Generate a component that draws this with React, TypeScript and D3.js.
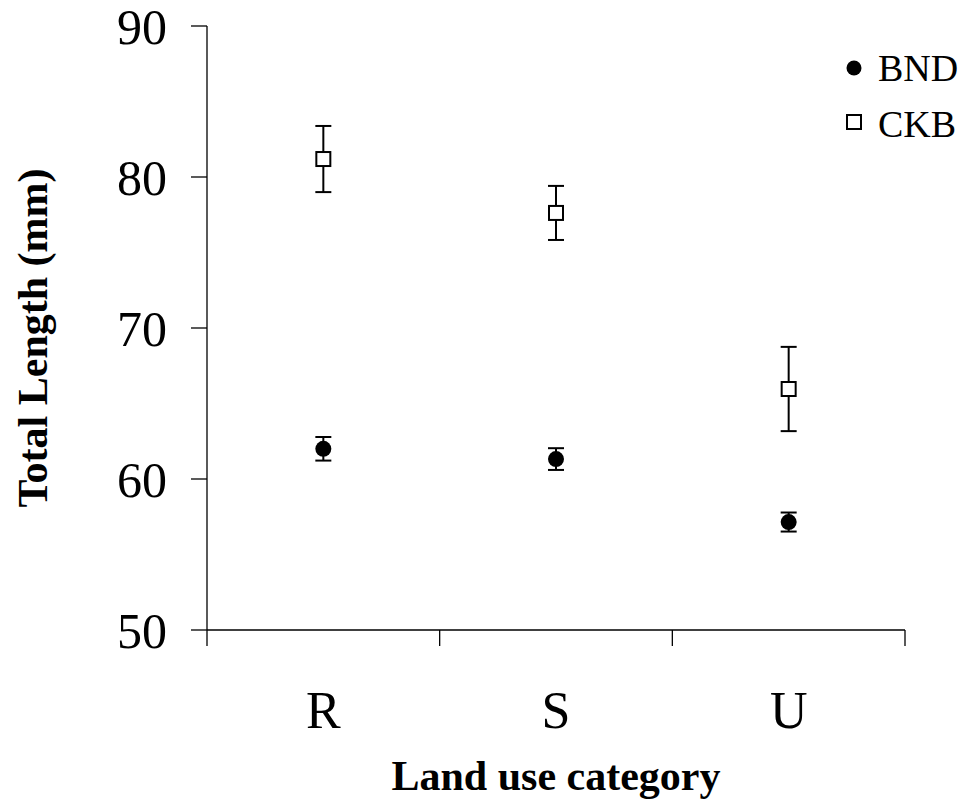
import React from "react";
import * as d3 from "d3";

const categories = ["R", "S", "U"];
const bndMean = [62.0, 61.32, 57.15];
const bndErr = [0.78, 0.72, 0.63];
const ckbMean = [81.19, 77.62, 65.96];
const ckbErr = [2.19, 1.79, 2.79];
const yTicks = [50, 60, 70, 80, 90];
const seriesNames = ["BND", "CKB"];

const W = 958;
const H = 804;
const left = 207;
const right = 905;
const top = 26;
const bottom = 630;

export default function App() {
  const x = d3.scaleBand<string>().domain(categories).range([left, right]);
  const y = d3.scaleLinear().domain([50, 90]).range([bottom, top]);
  const cx = (c: string) => (x(c) as number) + x.bandwidth() / 2;
  const font = "'Liberation Serif', 'Times New Roman', serif";
  const capW = 8;

  const errorBar = (c: string, m: number, e: number, key: string) => {
    const xc = cx(c);
    return (
      <g key={key} stroke="#000" strokeWidth={2}>
        <line x1={xc} x2={xc} y1={y(m + e)} y2={y(m - e)} />
        <line x1={xc - capW} x2={xc + capW} y1={y(m + e)} y2={y(m + e)} />
        <line x1={xc - capW} x2={xc + capW} y1={y(m - e)} y2={y(m - e)} />
      </g>
    );
  };

  const xEdges = [left, ...categories.map((c) => (x(c) as number) + x.bandwidth())];

  return (
    <svg
      width={W}
      height={H}
      style={{ position: "absolute", left: 0, top: 0, background: "#fff" }}
      fontFamily={font}
    >
      <rect width={W} height={H} fill="#fff" />
      {/* y axis */}
      <line x1={left} x2={left} y1={top} y2={bottom} stroke="#000" strokeWidth={1.3} />
      {yTicks.map((t) => (
        <g key={t}>
          <line x1={left - 16} x2={left} y1={y(t)} y2={y(t)} stroke="#000" strokeWidth={1.3} />
          <text x={167} y={y(t) + 18} textAnchor="end" fontSize={50} fill="#000">
            {t}
          </text>
        </g>
      ))}
      {/* x axis */}
      <line x1={left} x2={right} y1={bottom} y2={bottom} stroke="#000" strokeWidth={1.5} />
      {xEdges.map((xe, i) => (
        <line key={i} x1={xe} x2={xe} y1={bottom} y2={bottom + 16} stroke="#000" strokeWidth={1.3} />
      ))}
      {categories.map((c) => (
        <text key={c} x={cx(c)} y={728} textAnchor="middle" fontSize={52} fill="#000">
          {c}
        </text>
      ))}
      {/* axis titles */}
      <text x={(left + right) / 2} y={790} textAnchor="middle" fontSize={42} fontWeight="bold" fill="#000">
        Land use category
      </text>
      <text
        transform={`translate(47, ${(top + bottom) / 2 + 10}) rotate(-90)`}
        textAnchor="middle"
        fontSize={42}
        fontWeight="bold"
        fill="#000"
      >
        Total Length (mm)
      </text>
      {/* error bars and markers */}
      {categories.map((c, i) => errorBar(c, ckbMean[i], ckbErr[i], `ce${c}`))}
      {categories.map((c, i) => errorBar(c, bndMean[i], bndErr[i], `be${c}`))}
      {categories.map((c, i) => (
        <rect
          key={`ck${c}`}
          x={cx(c) - 7}
          y={y(ckbMean[i]) - 7}
          width={14}
          height={14}
          fill="#fff"
          stroke="#000"
          strokeWidth={2}
        />
      ))}
      {categories.map((c, i) => (
        <circle key={`bn${c}`} cx={cx(c)} cy={y(bndMean[i])} r={8} fill="#000" />
      ))}
      {/* legend */}
      <g>
        <circle cx={854} cy={68} r={7.5} fill="#000" />
        <text x={878} y={81} fontSize={38} fill="#000">
          {seriesNames[0]}
        </text>
        <rect x={847} y={115} width={14} height={14} fill="#fff" stroke="#000" strokeWidth={2} />
        <text x={878} y={137} fontSize={38} fill="#000">
          {seriesNames[1]}
        </text>
      </g>
    </svg>
  );
}
